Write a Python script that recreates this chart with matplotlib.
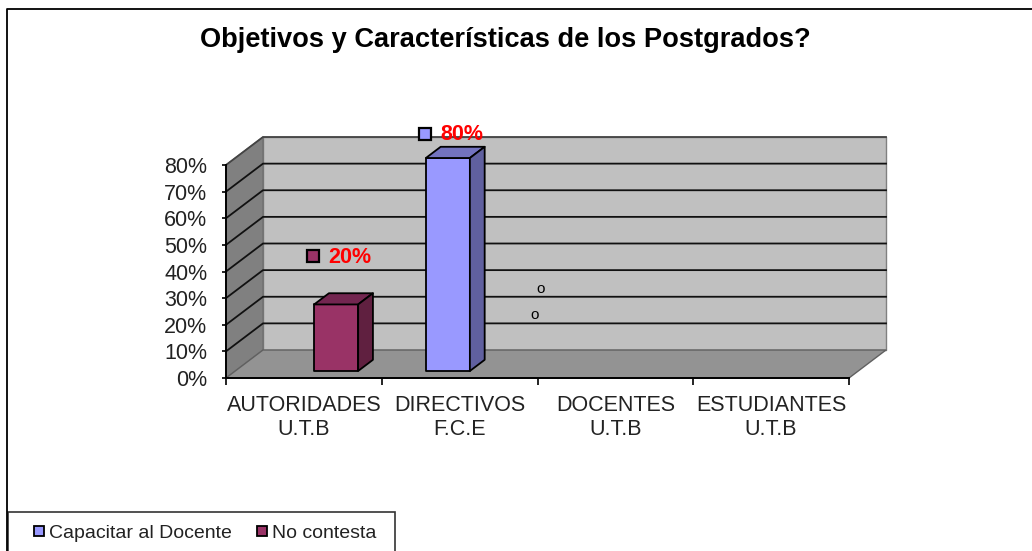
import matplotlib
matplotlib.use("Agg")
import matplotlib.pyplot as plt
from matplotlib.lines import Line2D
from matplotlib.patches import Polygon, Rectangle

plt.rcParams['font.family'] = ['Liberation Sans', 'DejaVu Sans']

# DATOS
TITLE = "Objetivos y Características de los Postgrados?"
CATEGORIES = ["AUTORIDADES\nU.T.B", "DIRECTIVOS\nF.C.E", "DOCENTES\nU.T.B", "ESTUDIANTES\nU.T.B"]
CAPACITAR = [0, 80, 0, 0]
NO_CONTESTA = [25, 0, 0, 0]
Y_TICKS = [0, 10, 20, 30, 40, 50, 60, 70, 80]
DATA_LABELS = [("No contesta", 0, "20%"), ("Capacitar al Docente", 1, "80%")]

W, H = 1032, 551
BLUE = ("#9999FF", "#7373BF", "#60609F")
PLUM = ("#993366", "#732650", "#602040")

# Tamaño del área de ejes en pixeles
X0, X1, Y0, Y1 = 226, 849, 378, 165
PX_X = (X1 - X0) / len(CATEGORIES)
PX_Y = (Y0 - Y1) / Y_TICKS[-1]
DEPTH_X = 37 / PX_X
DEPTH_Y = 28 / PX_Y
BAR_W = 44 / PX_X
BAR_SHIFT = 1 / PX_X


def project(x, y, d):
    return (x + d * DEPTH_X, y + d * DEPTH_Y)


def poly(ax, points, color, edge="black", lw=1.0, z=1):
    ax.add_patch(Polygon(points, closed=True, facecolor=color, edgecolor=edge,
                         linewidth=lw, clip_on=False, zorder=z, joinstyle="round"))


def draw_bar(ax, left, value, colors):
    right = left + BAR_W
    d0, d1 = 0.25, 0.65
    poly(ax, [project(left, 0, d0), project(right, 0, d0), project(right, value, d0), project(left, value, d0)],
         colors[0], lw=1.3, z=5)
    poly(ax, [project(left, value, d0), project(right, value, d0), project(right, value, d1), project(left, value, d1)],
         colors[1], lw=1.3, z=5)
    poly(ax, [project(right, 0, d0), project(right, 0, d1), project(right, value, d1), project(right, value, d0)],
         colors[2], lw=1.3, z=5)


fig = plt.figure(figsize=(W / 100, H / 100), dpi=100)
ax = fig.add_axes([X0 / W, 1 - Y0 / H, (X1 - X0) / W, (Y0 - Y1) / H])
n = len(CATEGORIES)
top = Y_TICKS[-1]
ax.set_xlim(0, n)
ax.set_ylim(0, top)
ax.patch.set_visible(False)

# Paredes y piso
poly(ax, [project(0, 0, 1), project(n, 0, 1), project(n, top, 1), project(0, top, 1)], "#C0C0C0", edge="#808080", z=1)
poly(ax, [project(0, 0, 0), project(0, 0, 1), project(0, top, 1), project(0, top, 0)], "#808080", edge="#707070", z=1)
poly(ax, [project(0, 0, 0), project(n, 0, 0), project(n, 0, 1), project(0, 0, 1)], "#939393", edge="#606060", z=1)

# Grilla
for v in Y_TICKS[1:]:
    a, b, c = project(0, v, 0), project(0, v, 1), project(n, v, 1)
    line_color = "#444444" if v == top else "#111111"
    ax.plot([a[0], b[0], c[0]], [a[1], b[1], c[1]], color=line_color, lw=1.3, clip_on=False, zorder=2)

# Barras
for i in range(n):
    center = i + 0.5 + BAR_SHIFT
    if CAPACITAR[i] > 0:
        draw_bar(ax, center - BAR_W, CAPACITAR[i], BLUE)
    if NO_CONTESTA[i] > 0:
        draw_bar(ax, center, NO_CONTESTA[i], PLUM)

# Etiquetas de datos
for name, i, text in DATA_LABELS:
    if name == "Capacitar al Docente":
        value, color, mx, my, tx, ty = CAPACITAR[i], BLUE[0], -23, 24, 16, 23
        left = i + 0.5 + BAR_SHIFT - BAR_W
    else:
        value, color, mx, my, tx, ty = NO_CONTESTA[i], PLUM[0], -23, 48, 15, 47
        left = i + 0.5 + BAR_SHIFT
    base = project(left + BAR_W / 2, value, 0.25)
    ax.plot([base[0] + mx / PX_X], [base[1] + my / PX_Y], marker="s", ms=8, mfc=color, mec="black", mew=1.6,
            clip_on=False, zorder=6)
    ax.text(base[0] + (mx + tx) / PX_X, base[1] + ty / PX_Y, text, color="#FF0000", fontsize=15.5,
            fontweight="bold", va="center", ha="left", zorder=6, clip_on=False)

# Ceros de las categorias vacias
ax.text(2 + 3 / PX_X, 33.5, "o", fontsize=11, ha="center", va="center", zorder=6)
ax.text(2 - 3 / PX_X, 23.5, "o", fontsize=11, ha="center", va="center", zorder=6)

# Ejes
for side in ("top", "right"):
    ax.spines[side].set_visible(False)
for side in ("left", "bottom"):
    ax.spines[side].set_linewidth(1.4)
    ax.spines[side].set_zorder(4)
ax.set_yticks(Y_TICKS)
ax.set_yticklabels([f"{v}%" for v in Y_TICKS], fontsize=15.5, color="#222222")
ax.set_xticks(range(n + 1))
ax.set_xticklabels([])
ax.set_xticks([i + 0.5 for i in range(n)], minor=True)
ax.set_xticklabels(CATEGORIES, minor=True, fontsize=15.5, color="#222222", linespacing=1.15)
ax.tick_params(axis="x", which="major", length=5, width=1.2)
ax.tick_params(axis="x", which="minor", length=0, pad=12.5)
ax.tick_params(axis="y", length=3, width=1.2, pad=10.5)

# Titulo y marco
fig.text(505 / W, 1 - 40 / H, TITLE, fontsize=19.6, fontweight="bold", ha="center", va="center")
fig.add_artist(Line2D([7 / W, 7 / W, 1], [0, 1 - 9 / H, 1 - 9 / H], color="black", lw=1.3))

# Leyenda
fig.add_artist(Rectangle((8 / W, -2 / H), 387 / W, (H + 2 - 512) / H, transform=fig.transFigure,
                         facecolor="white", edgecolor="#333333", linewidth=1.2))
handles = [
    Line2D([], [], ls="", marker="s", ms=7.5, mfc=BLUE[0], mec="black", mew=1.3, label="Capacitar al Docente"),
    Line2D([], [], ls="", marker="s", ms=7.5, mfc=PLUM[0], mec="black", mew=1.3, label="No contesta"),
]
fig.legend(handles=handles, ncol=2, loc="center left", bbox_to_anchor=(8 / W, 1 - 533 / H), fontsize=14,
           frameon=False, borderpad=0, handlelength=2.0, handletextpad=-0.48, columnspacing=0.54, borderaxespad=0.6,
           labelcolor="#222222")

fig.savefig("out.png", dpi=100)
